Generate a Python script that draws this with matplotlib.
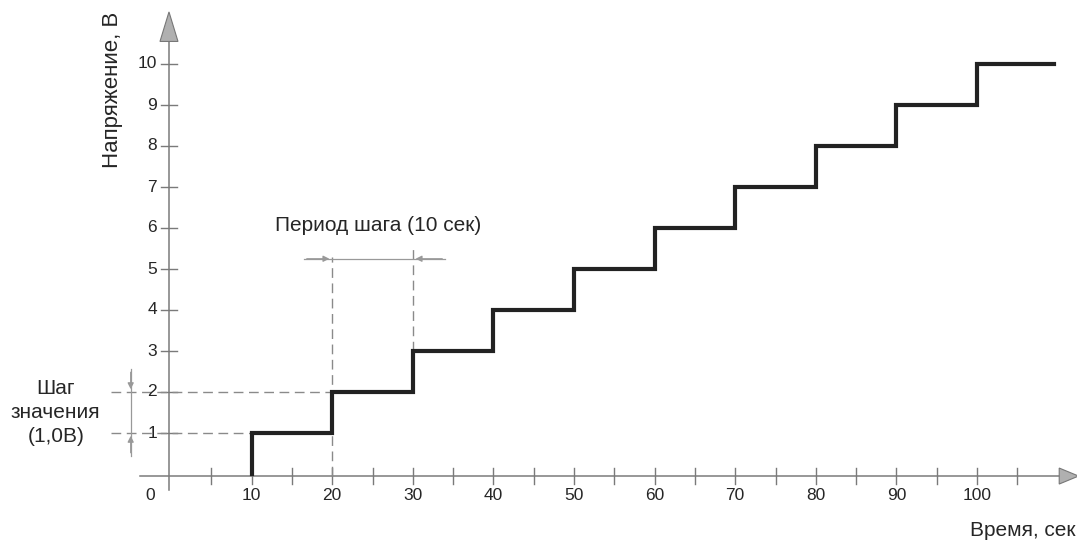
import matplotlib
matplotlib.use("Agg")
import matplotlib.pyplot as plt
from matplotlib.patches import Polygon

plt.rcParams["font.family"] = ["Liberation Sans", "DejaVu Sans"]

# Data: voltage staircase
step_times = [10, 20, 30, 40, 50, 60, 70, 80, 90, 100]
step_volts = [1, 2, 3, 4, 5, 6, 7, 8, 9, 10]
end_time = 109.5

x_major = [10, 20, 30, 40, 50, 60, 70, 80, 90, 100]
x_minor = [5, 15, 25, 35, 45, 55, 65, 75, 85, 95, 105]
y_ticks = [1, 2, 3, 4, 5, 6, 7, 8, 9, 10]

AXIS = "#7a7a7a"
DASH = "#8a8a8a"
LINE = "#222222"
TXT = "#262626"

# pixel mapping: x px = 171 + 8.06*t, y px = 474 - 41*v
XPX, YPX = 8.06, 41.0
x0, y0 = 171.0, 474.0
W, H = 1077, 541

fig = plt.figure(figsize=(W / 100, H / 100), dpi=100)
ax = fig.add_axes([0, 0, 1, 1])
ax.set_xlim(-x0 / XPX, (W - x0) / XPX)
ax.set_ylim((y0 - H) / YPX, y0 / YPX)
ax.axis("off")

dx = 1 / XPX  # one pixel in data units
dy = 1 / YPX

# axes lines
ax.plot([-3.8, 110.8], [-0.05, -0.05], color=AXIS, lw=1.1, zorder=1)
ax.plot([-0.25, -0.25], [-0.4, 10.8], color=AXIS, lw=1.1, zorder=1)

# axis arrowheads
ax.add_patch(Polygon([[-0.25, 11.27], [-0.25 - 9 * dx, 10.55], [-0.25 + 9 * dx, 10.55]],
                     closed=True, facecolor="#b0b0b0", edgecolor="#777777", lw=0.8, zorder=2))
ax.add_patch(Polygon([[112.6, -0.05], [110.2, -0.05 + 8 * dy], [110.2, -0.05 - 8 * dy]],
                     closed=True, facecolor="#b0b0b0", edgecolor="#777777", lw=0.8, zorder=2))

# x ticks
for t in x_major + x_minor:
    ax.plot([t, t], [-0.05 - 8 * dy, -0.05 + 8 * dy], color=AXIS, lw=1.0, zorder=1)
for t in x_major:
    ax.text(t, -0.05 - 19 * dy, str(t), ha="center", va="center", fontsize=12.5, color=TXT)
ax.text(-2.6, -0.05 - 19 * dy, "0", ha="center", va="center", fontsize=12.5, color=TXT)

# y ticks
for v in y_ticks:
    ax.plot([-0.25 - 8 * dx, -0.25 + 8 * dx], [v, v], color=AXIS, lw=1.0, zorder=1)
    ax.text(-0.25 - 12 * dx, v, str(v), ha="right", va="center", fontsize=12.5, color=TXT)

# axis labels
ax.text(-7.2, 9.37, "Напряжение, В", rotation=90, ha="center", va="center",
        fontsize=16, color=TXT)
ax.text(112.2, -1.38, "Время, сек", ha="right", va="center", fontsize=15, color=TXT)

# dashed helper lines
ax.plot([-7.5, step_times[0]], [step_volts[0], step_volts[0]], color=DASH, lw=1.0,
        ls=(0, (7, 4)), zorder=1)
ax.plot([-7.5, step_times[1]], [step_volts[1], step_volts[1]], color=DASH, lw=1.0,
        ls=(0, (7, 4)), zorder=1)
ax.plot([step_times[1], step_times[1]], [-0.05, 5.3], color=DASH, lw=1.0,
        ls=(0, (7, 4)), zorder=1)
ax.plot([step_times[2], step_times[2]], [step_volts[2], 5.55], color=DASH, lw=1.0,
        ls=(0, (7, 4)), zorder=1)

# staircase
xs = [step_times[0]] + step_times + [end_time]
ys = [0] + step_volts + [step_volts[-1]]
ax.step(xs, ys, where="post", color=LINE, lw=3.0, solid_joinstyle="miter", zorder=3)

# period dimension
yp = 5.25
ax.plot([16.5, 34.0], [yp, yp], color="#999999", lw=0.9, zorder=1)
arrow_kw = dict(arrowstyle="-|>", color="#999999", lw=0.9, mutation_scale=9)
ax.annotate("", xy=(step_times[1], yp), xytext=(16.5, yp), arrowprops=arrow_kw)
ax.annotate("", xy=(step_times[2], yp), xytext=(34.0, yp), arrowprops=arrow_kw)
ax.text(25.7, 6.07, "Период шага (10 сек)", ha="center", va="center", fontsize=15,
        color=TXT)

# value step dimension
xv = -5.0
ax.plot([xv, xv], [0.45, 2.55], color="#999999", lw=0.9, zorder=1)
ax.annotate("", xy=(xv, step_volts[1]), xytext=(xv, 2.55), arrowprops=arrow_kw)
ax.annotate("", xy=(xv, step_volts[0]), xytext=(xv, 0.45), arrowprops=arrow_kw)
ax.text(-14.3, 1.5, "Шаг\nзначения\n(1,0В)", ha="center", va="center", fontsize=15,
        color=TXT, linespacing=1.3)

fig.savefig("out.png", dpi=100, facecolor="white")
